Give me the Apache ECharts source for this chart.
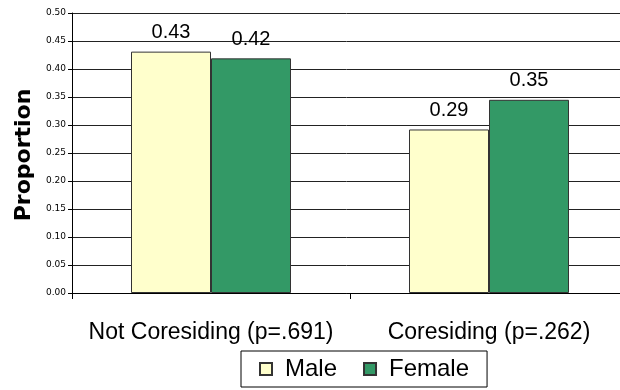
<!DOCTYPE html>
<html>
<head>
<meta charset="utf-8">
<script src="https://cdn.jsdelivr.net/npm/echarts@6/dist/echarts.min.js"></script>
<style>
  html, body { margin: 0; padding: 0; background: #fff; }
  #chart { width: 620px; height: 390px; }
</style>
</head>
<body>
<div id="chart"></div>
<script>
const categories = ["Not Coresiding (p=.691)", "Coresiding (p=.262)"];
const maleValues = [0.431, 0.292];
const femaleValues = [0.419, 0.345];
const maleLabels = ["0.43", "0.29"];
const femaleLabels = ["0.42", "0.35"];
const yTicks = ["0.00", "0.05", "0.10", "0.15", "0.20", "0.25", "0.30", "0.35", "0.40", "0.45", "0.50"];

const chart = echarts.init(document.getElementById("chart"));

const font = "Liberation Sans, Arial, sans-serif";

const options = {
  animation: false,
  textStyle: { fontFamily: font, color: "#000" },
  grid: {
    left: 72,
    right: -8,
    top: 13,
    bottom: 97,
    containLabel: false,
    outerBoundsMode: "none",
  },
  legend: {
    top: 351,
    left: 241,
    icon: "rect",
    itemWidth: 12,
    itemHeight: 12,
    itemGap: 26,
    padding: [6, 18, 6, 18],
    borderColor: "#000",
    borderWidth: 1,
    textStyle: { fontSize: 24, color: "#000", fontFamily: font, padding: [0, 0, 0, 8] },
    data: ["Male", "Female"],
  },
  xAxis: {
    type: "category",
    data: categories,
    axisLine: { lineStyle: { color: "#000", width: 1 } },
    axisTick: { show: true, length: 6, lineStyle: { color: "#000" } },
    axisLabel: { fontSize: 23, color: "#000", margin: 28, fontFamily: font, interval: 0 },
  },
  yAxis: {
    type: "value",
    min: 0,
    max: 0.5,
    interval: 0.05,
    name: "Proportion",
    nameLocation: "middle",
    nameGap: 36,
    nameTextStyle: {
      fontSize: 22,
      fontWeight: "bold",
      color: "#000",
      fontFamily: "DejaVu Sans, Verdana, sans-serif",
      padding: [0, 4, 0, 0],
    },
    axisLine: { show: true, lineStyle: { color: "#000", width: 1 } },
    axisTick: { show: true, length: 4, lineStyle: { color: "#000" } },
    axisLabel: {
      fontSize: 9,
      color: "#000",
      margin: 6,
      fontFamily: "DejaVu Sans, Verdana, sans-serif",
      formatter: (v) => yTicks[Math.round(v / 0.05)],
    },
    splitLine: { show: true, lineStyle: { color: "#222", width: 1 } },
  },
  series: [
    {
      name: "Male",
      type: "bar",
      data: maleValues,
      barWidth: 80,
      barGap: "0%",
      itemStyle: { color: "#FFFFCC", borderColor: "#333", borderWidth: 1 },
      label: {
        show: true,
        position: "top",
        distance: 9,
        fontSize: 20,
        color: "#000",
        fontFamily: font,
        formatter: (p) => maleLabels[p.dataIndex],
      },
    },
    {
      name: "Female",
      type: "bar",
      data: femaleValues,
      barWidth: 80,
      barGap: "0%",
      itemStyle: { color: "#339966", borderColor: "#333", borderWidth: 1 },
      label: {
        show: true,
        position: "top",
        distance: 9,
        fontSize: 20,
        color: "#000",
        fontFamily: font,
        formatter: (p) => femaleLabels[p.dataIndex],
      },
    },
  ],
};

chart.setOption(options);
</script>
</body>
</html>
